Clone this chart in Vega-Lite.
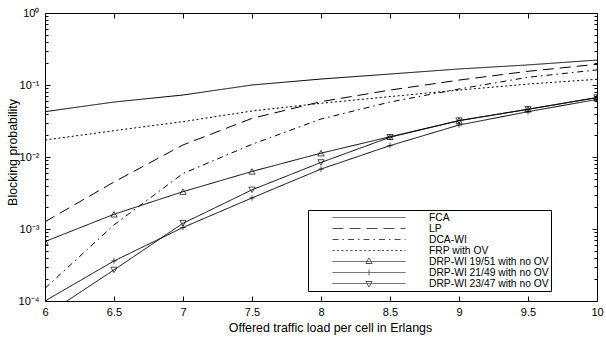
{
  "$schema": "https://vega.github.io/schema/vega-lite/v6.json",
  "width": 552,
  "height": 288,
  "autosize": {"type": "none"},
  "padding": {"left": 45, "top": 13, "right": 9, "bottom": 37},
  "background": "white",
  "config": {
    "view": {"stroke": "black", "strokeWidth": 1},
    "axis": {"grid": false, "domain": false, "labelFont": "Liberation Sans", "titleFont": "Liberation Sans", "labelColor": "black", "titleColor": "black", "tickColor": "black", "labelFontSize": 11, "titleFontSize": 12.4, "titleFontWeight": "normal", "labelOverlap": false, "labelFlush": false}
  },
  "data": {"values": [
    {"series": "FCA", "load": 6, "p": 0.0426}, {"series": "FCA", "load": 6.5, "p": 0.058}, {"series": "FCA", "load": 7, "p": 0.0726}, {"series": "FCA", "load": 7.5, "p": 0.1}, {"series": "FCA", "load": 8, "p": 0.121}, {"series": "FCA", "load": 8.5, "p": 0.142}, {"series": "FCA", "load": 9, "p": 0.167}, {"series": "FCA", "load": 9.5, "p": 0.19}, {"series": "FCA", "load": 10, "p": 0.222},
    {"series": "LP", "load": 6, "p": 0.00126}, {"series": "LP", "load": 6.5, "p": 0.0045}, {"series": "LP", "load": 7, "p": 0.0147}, {"series": "LP", "load": 7.5, "p": 0.0344}, {"series": "LP", "load": 8, "p": 0.0587}, {"series": "LP", "load": 8.5, "p": 0.085}, {"series": "LP", "load": 9, "p": 0.117}, {"series": "LP", "load": 9.5, "p": 0.155}, {"series": "LP", "load": 10, "p": 0.194},
    {"series": "DCA-WI", "load": 6, "p": 0.00015}, {"series": "DCA-WI", "load": 6.5, "p": 0.00114}, {"series": "DCA-WI", "load": 7, "p": 0.0059}, {"series": "DCA-WI", "load": 7.5, "p": 0.015}, {"series": "DCA-WI", "load": 8, "p": 0.0337}, {"series": "DCA-WI", "load": 8.5, "p": 0.058}, {"series": "DCA-WI", "load": 9, "p": 0.088}, {"series": "DCA-WI", "load": 9.5, "p": 0.128}, {"series": "DCA-WI", "load": 10, "p": 0.162},
    {"series": "FRP with OV", "load": 6, "p": 0.0172}, {"series": "FRP with OV", "load": 6.5, "p": 0.0232}, {"series": "FRP with OV", "load": 7, "p": 0.031}, {"series": "FRP with OV", "load": 7.5, "p": 0.0435}, {"series": "FRP with OV", "load": 8, "p": 0.0557}, {"series": "FRP with OV", "load": 8.5, "p": 0.069}, {"series": "FRP with OV", "load": 9, "p": 0.085}, {"series": "FRP with OV", "load": 9.5, "p": 0.103}, {"series": "FRP with OV", "load": 10, "p": 0.12},
    {"series": "DRP-WI 19/51 with no OV", "load": 6, "p": 0.00067}, {"series": "DRP-WI 19/51 with no OV", "load": 6.5, "p": 0.0016}, {"series": "DRP-WI 19/51 with no OV", "load": 7, "p": 0.0033}, {"series": "DRP-WI 19/51 with no OV", "load": 7.5, "p": 0.0063}, {"series": "DRP-WI 19/51 with no OV", "load": 8, "p": 0.0113}, {"series": "DRP-WI 19/51 with no OV", "load": 8.5, "p": 0.0191}, {"series": "DRP-WI 19/51 with no OV", "load": 9, "p": 0.032}, {"series": "DRP-WI 19/51 with no OV", "load": 9.5, "p": 0.046}, {"series": "DRP-WI 19/51 with no OV", "load": 10, "p": 0.0667},
    {"series": "DRP-WI 21/49 with no OV", "load": 6, "p": 0.0001}, {"series": "DRP-WI 21/49 with no OV", "load": 6.5, "p": 0.00036}, {"series": "DRP-WI 21/49 with no OV", "load": 7, "p": 0.00105}, {"series": "DRP-WI 21/49 with no OV", "load": 7.5, "p": 0.0027}, {"series": "DRP-WI 21/49 with no OV", "load": 8, "p": 0.0068}, {"series": "DRP-WI 21/49 with no OV", "load": 8.5, "p": 0.0144}, {"series": "DRP-WI 21/49 with no OV", "load": 9, "p": 0.0278}, {"series": "DRP-WI 21/49 with no OV", "load": 9.5, "p": 0.0426}, {"series": "DRP-WI 21/49 with no OV", "load": 10, "p": 0.063},
    {"series": "DRP-WI 23/47 with no OV", "load": 6, "p": 0.000063}, {"series": "DRP-WI 23/47 with no OV", "load": 6.5, "p": 0.00027}, {"series": "DRP-WI 23/47 with no OV", "load": 7, "p": 0.0012}, {"series": "DRP-WI 23/47 with no OV", "load": 7.5, "p": 0.0035}, {"series": "DRP-WI 23/47 with no OV", "load": 8, "p": 0.0084}, {"series": "DRP-WI 23/47 with no OV", "load": 8.5, "p": 0.0188}, {"series": "DRP-WI 23/47 with no OV", "load": 9, "p": 0.032}, {"series": "DRP-WI 23/47 with no OV", "load": 9.5, "p": 0.046}, {"series": "DRP-WI 23/47 with no OV", "load": 10, "p": 0.067}
  ]},
  "resolve": {"axis": {"x": "independent", "y": "independent"}},
  "layer": [
    {
      "mark": {"type": "line", "color": "black", "strokeWidth": 1, "clip": true},
      "encoding": {
        "x": {"field": "load", "type": "quantitative", "scale": {"domain": [6, 10], "nice": false, "zero": false},
          "axis": {"orient": "bottom", "values": [6, 6.5, 7, 7.5, 8, 8.5, 9, 9.5, 10], "format": "~g", "tickSize": -5, "labelPadding": 10, "title": "Offered traffic load per cell in Erlangs", "titleX": 285, "titleY": 30, "titleAlign": "center", "titleBaseline": "alphabetic"}},
        "y": {"field": "p", "type": "quantitative", "scale": {"type": "log", "domain": [0.0001, 1], "nice": false},
          "axis": {"orient": "left", "values": [0.0001, 0.001, 0.01, 0.1, 1], "tickSize": -5, "labelPadding": 11, "labelExpr": "datum.value >= 0.9 ? '10⁰' : datum.value >= 0.09 ? '10⁻¹' : datum.value >= 0.009 ? '10⁻²' : datum.value >= 0.0009 ? '10⁻³' : '10⁻⁴'", "title": "Blocking probability", "titleX": -33, "titleY": 139, "titleAngle": -90, "titleAlign": "center", "titleBaseline": "middle"}},
        "strokeDash": {"field": "series", "type": "nominal",
          "scale": {"domain": ["FCA", "LP", "DCA-WI", "FRP with OV", "DRP-WI 19/51 with no OV", "DRP-WI 21/49 with no OV", "DRP-WI 23/47 with no OV"],
                    "range": [[1, 0], [11, 6], [6, 4, 1.5, 4], [2, 2.5], [1, 0], [1, 0], [1, 0]]},
          "legend": {"orient": "none", "legendX": 263, "legendY": 197, "title": null, "symbolSize": 5329, "symbolStrokeWidth": 1, "symbolStrokeColor": "black", "symbolOffset": 22, "labelOffset": 23, "labelFontSize": 10.3, "labelFont": "Liberation Sans", "labelColor": "black", "labelExpr": "datum.label + '    '", "strokeColor": "black", "fillColor": "white", "padding": 2, "rowPadding": -1.5, "clipHeight": 11}}
      }
    },
    {
      "transform": [{"filter": "datum.series == 'DRP-WI 19/51 with no OV'"}],
      "mark": {"type": "point", "shape": "triangle-up", "filled": false, "color": "black", "size": 40, "strokeWidth": 1, "clip": true},
      "encoding": {
        "x": {"field": "load", "type": "quantitative", "axis": {"orient": "top", "values": [6.5, 7, 7.5, 8, 8.5, 9, 9.5], "tickSize": -5, "labels": false, "title": null}},
        "y": {"field": "p", "type": "quantitative", "axis": {"orient": "right", "values": [0.0001, 0.001, 0.01, 0.1, 1], "tickSize": -5, "labels": false, "title": null}}
      }
    },
    {
      "transform": [{"filter": "datum.series == 'DRP-WI 21/49 with no OV'"}],
      "mark": {"type": "point", "shape": "M-1,0H1M0,-1V1", "filled": false, "color": "black", "size": 30, "strokeWidth": 1, "clip": true},
      "encoding": {
        "x": {"field": "load", "type": "quantitative", "axis": null},
        "y": {"field": "p", "type": "quantitative", "axis": {"orient": "left", "values": [0.0002, 0.0003, 0.0004, 0.0005, 0.0006, 0.0007, 0.0008, 0.0009, 0.002, 0.003, 0.004, 0.005, 0.006, 0.007, 0.008, 0.009, 0.02, 0.03, 0.04, 0.05, 0.06, 0.07, 0.08, 0.09, 0.2, 0.3, 0.4, 0.5, 0.6, 0.7, 0.8, 0.9], "tickSize": -3, "labels": false, "title": null}}
      }
    },
    {
      "transform": [{"filter": "datum.series == 'DRP-WI 23/47 with no OV'"}],
      "mark": {"type": "point", "shape": "triangle-down", "filled": false, "color": "black", "size": 40, "strokeWidth": 1, "clip": true},
      "encoding": {
        "x": {"field": "load", "type": "quantitative", "axis": null},
        "y": {"field": "p", "type": "quantitative", "axis": {"orient": "right", "values": [0.0002, 0.0003, 0.0004, 0.0005, 0.0006, 0.0007, 0.0008, 0.0009, 0.002, 0.003, 0.004, 0.005, 0.006, 0.007, 0.008, 0.009, 0.02, 0.03, 0.04, 0.05, 0.06, 0.07, 0.08, 0.09, 0.2, 0.3, 0.4, 0.5, 0.6, 0.7, 0.8, 0.9], "tickSize": -3, "labels": false, "title": null}}
      }
    },
    {
      "transform": [{"filter": "false"}],
      "mark": {"type": "point", "filled": false, "color": "black"},
      "encoding": {
        "x": {"field": "load", "type": "quantitative", "axis": null},
        "y": {"field": "p", "type": "quantitative", "axis": null},
        "shape": {"field": "series", "type": "nominal",
          "scale": {"domain": ["FCA", "LP", "DCA-WI", "FRP with OV", "DRP-WI 19/51 with no OV", "DRP-WI 21/49 with no OV", "DRP-WI 23/47 with no OV"],
                    "range": ["M-1,0H1", "M-1,0H1", "M-1,0H1", "M-1,0H1", "M-1,0H1M-0.085,0.055L0,-0.1L0.085,0.055Z", "M-1,0H1M0,-0.08V0.08", "M-1,0H1M-0.085,-0.055L0,0.1L0.085,-0.055Z"]},
          "legend": {"orient": "none", "legendX": 263, "legendY": 197, "title": null, "symbolSize": 5329, "symbolStrokeWidth": 1, "symbolStrokeColor": "black", "symbolOffset": 22, "labelOffset": 23, "labelFontSize": 10.3, "labelFont": "Liberation Sans", "labelColor": "black", "labelExpr": "datum.label + '    '", "strokeColor": "black", "fillColor": "white", "padding": 2, "rowPadding": -1.5, "clipHeight": 11}}
      }
    }
  ]
}
